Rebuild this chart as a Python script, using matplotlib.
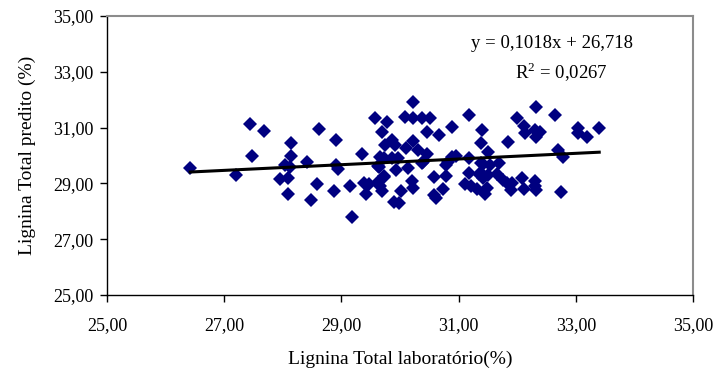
import matplotlib
matplotlib.use("Agg")
import matplotlib.pyplot as plt
import numpy as np
from matplotlib.ticker import FuncFormatter

plt.rcParams['font.family'] = ['Liberation Serif', 'DejaVu Serif']
plt.rcParams['mathtext.fontset'] = 'custom'
plt.rcParams['mathtext.rm'] = 'Liberation Serif'

# Lignina total: laboratory reference vs. predicted values (%)
lab = [26.42, 27.20, 27.44, 27.47, 27.68, 27.96, 28.04, 28.09, 28.09, 28.12,
       28.14, 28.14, 28.42, 28.48, 28.59, 28.61, 28.88, 28.91, 28.91, 28.94,
       29.15, 29.18, 29.35, 29.39, 29.42, 29.47, 29.58, 29.64, 29.62, 29.66,
       29.69, 29.69, 29.72, 29.73, 29.74, 29.77, 29.86, 29.86, 29.89, 29.91,
       29.93, 29.97, 29.99, 30.01, 30.09, 30.10, 30.14, 30.20, 30.22, 30.23,
       30.23, 30.23, 30.31, 30.37, 30.37, 30.46, 30.46, 30.51, 30.58, 30.58,
       30.62, 30.67, 30.74, 30.78, 30.79, 30.88, 30.88, 30.95, 31.11, 31.18,
       31.18, 31.18, 31.22, 31.31, 31.34, 31.38, 31.39, 31.39, 31.40, 31.41,
       31.45, 31.48, 31.51, 31.51, 31.54, 31.65, 31.69, 31.76, 31.82, 31.84,
       31.90, 31.92, 31.99, 32.09, 32.11, 32.12, 32.13, 32.30, 32.30, 32.30,
       32.32, 32.32, 32.32, 32.39, 32.65, 32.70, 32.75, 32.79, 33.03, 33.03,
       33.19, 33.40, 29.66, 29.72, 30.40, 30.82, 31.41, 29.62]
predito = [29.54, 29.30, 31.12, 29.98, 30.89, 29.14, 29.66, 29.18, 28.63, 29.58,
           30.44, 29.98, 29.78, 28.39, 28.98, 30.96, 28.74, 30.56, 29.66, 29.52,
           28.92, 27.79, 30.04, 29.00, 28.63, 28.97, 31.35, 29.58, 29.05, 28.90,
           28.72, 30.85, 29.90, 29.28, 30.38, 31.19, 30.56, 29.90, 28.34, 30.38,
           29.48, 29.92, 28.29, 28.73, 31.37, 30.26, 29.54, 29.09, 28.82, 31.93,
           31.35, 30.52, 30.20, 31.35, 29.72, 30.83, 30.04, 31.35, 29.22, 28.58,
           28.48, 30.73, 28.80, 29.27, 29.66, 31.01, 29.96, 29.98, 28.97, 31.45,
           29.92, 29.36, 28.92, 28.79, 29.33, 30.46, 29.72, 29.36, 30.91, 29.18,
           28.61, 28.82, 30.11, 29.30, 29.66, 29.34, 29.72, 29.12, 29.00, 30.50,
           28.76, 29.00, 31.35, 29.20, 31.07, 28.79, 30.82, 30.91, 29.09, 28.92,
           31.75, 30.65, 28.76, 30.85, 31.45, 30.20, 28.68, 29.96, 30.97, 30.82,
           30.65, 30.97, 29.96, 29.24, 29.78, 29.78, 29.70, 29.62]

# Axis ticks
ticks = [25, 27, 29, 31, 33, 35]

# Linear trendline coefficients
slope = 0.1018
intercept = 26.718
r2 = 0.0267

fig = plt.figure(figsize=(7.19, 3.77), dpi=100)
ax = fig.add_axes([0.1488, 0.2175, 0.8150, 0.7401])

ax.plot(lab, predito, linestyle='none', marker='D', markersize=7.3,
        color='#000080', markeredgewidth=0, zorder=3)

xs = np.array([min(lab), max(lab)])
ax.plot(xs, slope * xs + intercept, color='black', linewidth=2.2, zorder=4)

ax.set_xlim(25, 35)
ax.set_ylim(25, 35)
ax.set_xticks(ticks)
ax.set_yticks(ticks)
fmt = FuncFormatter(lambda v, p: f"{v:.2f}".replace('.', ','))
ax.xaxis.set_major_formatter(fmt)
ax.yaxis.set_major_formatter(fmt)
ax.tick_params(direction='out', length=5, width=1, labelsize=13, pad=5,
               colors='black')
ax.tick_params(axis='x', pad=11)

for side in ('left', 'bottom'):
    ax.spines[side].set_color('black')
    ax.spines[side].set_linewidth(1.0)
for side in ('top', 'right'):
    ax.spines[side].set_color('#8c8c8c')
    ax.spines[side].set_linewidth(1.5)

ax.set_xlabel('Lignina Total laboratório(%)', fontsize=14, labelpad=12)
ax.set_ylabel('Lignina Total predito (%)', fontsize=14, labelpad=12)

ax.text(32.59, 34.0, f"y = {slope:.4f}x + {intercept:.3f}".replace('.', ','),
        ha='center', va='center', fontsize=13.5)
ax.text(32.75, 32.99, f"R$^{{2}}$ = {r2:.4f}".replace('.', ','),
        ha='center', va='center', fontsize=13.5)

fig.savefig('out.png', dpi=100)
